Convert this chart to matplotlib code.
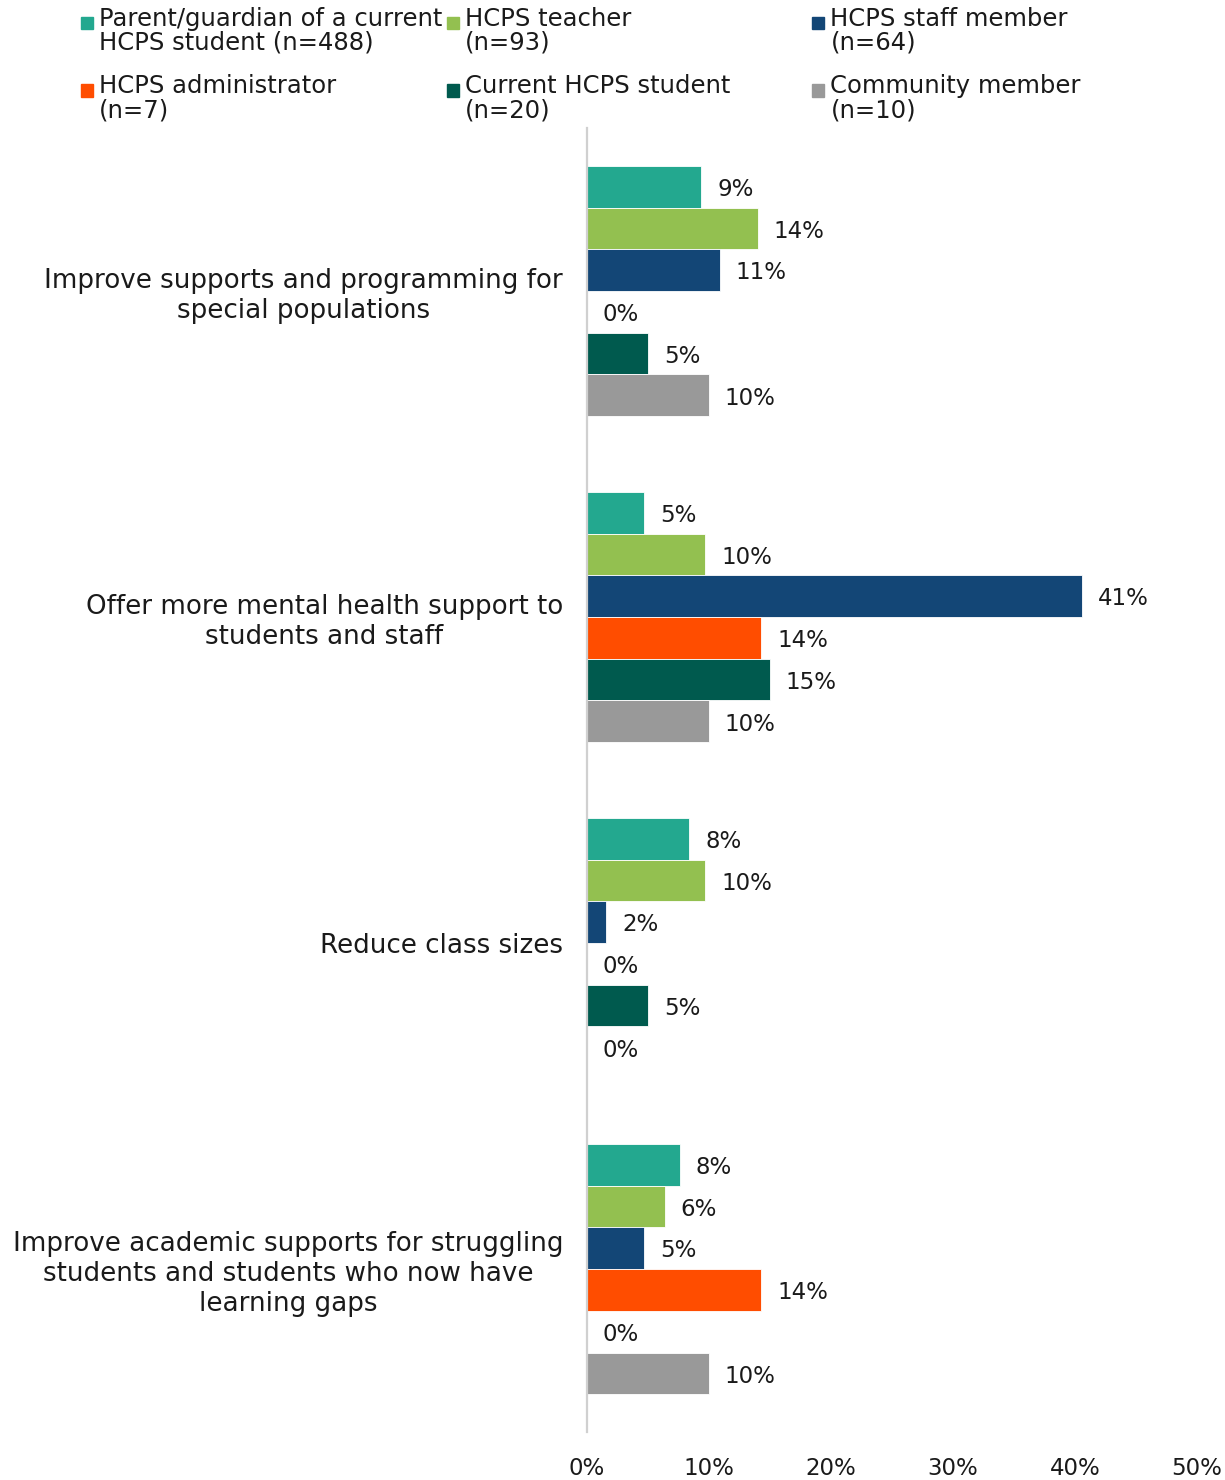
import numpy as np
import matplotlib
matplotlib.use("Agg")
import matplotlib.pyplot as plt
from matplotlib.patches import Patch, Rectangle
from matplotlib.legend_handler import HandlerPatch

plt.rcParams['font.family'] = ['DejaVu Sans']

categories = [
    "Improve supports and programming for\nspecial populations",
    "Offer more mental health support to\nstudents and staff",
    "Reduce class sizes",
    "Improve academic supports for struggling\nstudents and students who now have\nlearning gaps",
]
series_names = [
    "Parent/guardian of a current\nHCPS student (n=488)",
    "HCPS teacher\n(n=93)",
    "HCPS staff member\n(n=64)",
    "HCPS administrator\n(n=7)",
    "Current HCPS student\n(n=20)",
    "Community member\n(n=10)",
]
parent = [9.4, 4.7, 8.4, 7.6]
teacher = [14.0, 9.7, 9.7, 6.4]
staff = [10.9, 40.6, 1.6, 4.7]
admin = [0.0, 14.3, 0.0, 14.3]
student = [5.0, 15.0, 5.0, 0.0]
community = [10.0, 10.0, 0.0, 10.0]
colors = ["#23A88F", "#93C050", "#134676", "#FF4D00", "#005A4E", "#999999"]

series = [parent, teacher, staff, admin, student, community]

fig = plt.figure(figsize=(12.25, 14.8), dpi=100)
ax = fig.add_axes([0.479, 0.0324, 0.498, 0.8811])

n = len(series)
bh = 0.128
y = np.arange(len(categories))
for i, vals in enumerate(series):
    pos = y - (n - 1) / 2 * bh + i * bh
    bars = ax.barh(pos, vals, height=bh, color=colors[i], edgecolor='white', linewidth=0.6)
    for b, v in zip(bars, vals):
        ax.annotate(f"{v:.0f}%", (b.get_width(), b.get_y() + b.get_height() / 2),
                    xytext=(11.5, -2), textcoords='offset points',
                    va='center', ha='left', fontsize=16.5, color='#1a1a1a')

ax.set_ylim(len(categories) - 0.5, -0.5)
ax.set_xlim(0, 50)
ax.set_xticks(np.arange(0, 51, 10))
ax.set_xticklabels([f"{t}%" for t in range(0, 51, 10)])
ax.set_yticks(y)
ax.set_yticklabels(categories)
for lab in ax.get_yticklabels():
    lab.set_multialignment('center')
    lab.set_linespacing(1.2)
ax.tick_params(axis='y', length=0, pad=17, labelsize=18.8, labelcolor='#1a1a1a')
ax.tick_params(axis='x', length=0, pad=18, labelsize=16.5, labelcolor='#1a1a1a')
for s in ['top', 'right', 'bottom']:
    ax.spines[s].set_visible(False)
ax.spines['left'].set_color('#d0d0d0')
ax.spines['left'].set_linewidth(1.6)


# square marker sitting next to the first line of a two-line legend label
def top_square(legend, orig_handle, xdescent, ydescent, width, height, fontsize):
    side = 0.5 * fontsize
    return Rectangle((-xdescent, -ydescent + height - side), side, side)


# legend: three columns, laid out as separate legends so columns are evenly spaced
col_x = [0.066, 0.365, 0.663]
for c in range(3):
    handles = [Patch(color=colors[c]), Patch(color=colors[c + 3])]
    labels = [series_names[c], series_names[c + 3]]
    leg = fig.legend(handles, labels, loc='upper left', bbox_to_anchor=(col_x[c], 0.9955),
                     frameon=False, fontsize=17.5, handlelength=0.5, handleheight=1.55,
                     handletextpad=0.25, labelspacing=0.8, borderaxespad=0, borderpad=0,
                     handler_map={Patch: HandlerPatch(patch_func=top_square)})
    for t in leg.get_texts():
        t.set_linespacing(1.0)
        t.set_color('#1a1a1a')

plt.savefig("out.png", dpi=100)
